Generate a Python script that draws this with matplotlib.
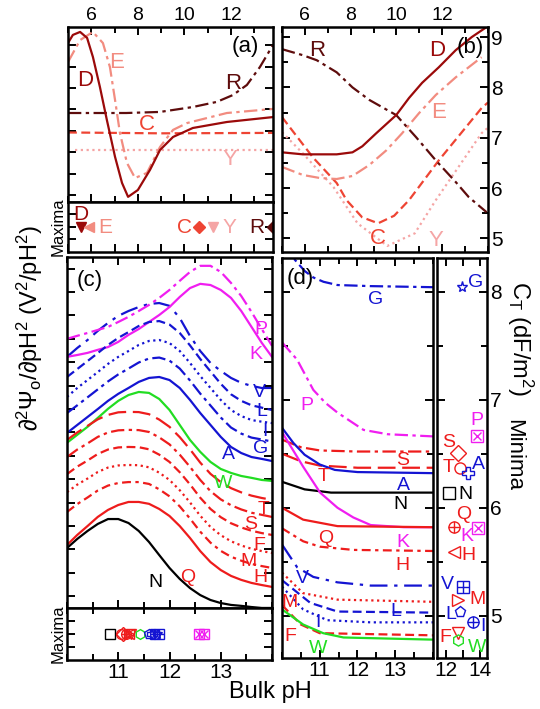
import matplotlib.pyplot as plt
from matplotlib.ticker import MultipleLocator

plt.rcParams['font.family'] = ['Liberation Sans', 'DejaVu Sans']
plt.rcParams['mathtext.fontset'] = 'custom'
plt.rcParams['mathtext.rm'] = 'Liberation Sans'
plt.rcParams['mathtext.it'] = 'Liberation Sans:italic'
plt.rcParams['mathtext.default'] = 'regular'

# ---------------- panel (a): second derivative, single oxides (arb. units)
a_ph_D = [5.0, 5.21, 5.52, 5.82, 6.07, 6.37, 6.67, 7.02, 7.32, 7.58, 8.0, 8.52, 8.95, 9.51, 10.36, 11.82, 13.8]
a_D = [7.10, 7.48, 7.62, 7.34, 6.45, 5.05, 3.50, 1.78, 0.56, -0.09, 0.23, 1.17, 2.10, 2.71, 3.13, 3.41, 3.64]
a_ph_E = [5.0, 5.52, 6.07, 6.5, 6.8, 7.02, 7.23, 7.53, 7.88, 8.39, 8.95, 9.51, 10.11, 11.82, 13.8]
a_E = [6.21, 7.24, 7.62, 7.10, 5.98, 4.44, 2.90, 1.50, 0.79, 1.03, 2.24, 3.04, 3.36, 3.83, 4.02]
a_ph_R = [5.0, 7.5, 8.95, 10.36, 11.39, 12.08, 12.68, 13.24, 13.8]
a_R = [3.83, 3.83, 3.88, 4.11, 4.35, 4.67, 5.14, 5.98, 7.01]
a_ph_C = [5.0, 9.0, 13.8]
a_C = [2.92, 2.88, 2.90]
a_ph_Y = [5.3, 13.8]
a_Y = [2.10, 2.10]
# pH of the maxima
amax_ph = {'D': 5.56, 'E': 5.9, 'C': 10.62, 'Y': 11.22, 'R': 13.8}

# ---------------- panel (b): C_T vs pH, single oxides
b_ph_D = [5.0, 5.91, 7.39, 8.08, 8.51, 9.12, 9.99, 10.55, 11.12, 11.85, 12.59, 13.29, 13.94]
b_D = [6.71, 6.67, 6.67, 6.71, 6.83, 7.09, 7.45, 7.79, 8.09, 8.40, 8.74, 9.0, 9.2]
b_ph_E = [5.0, 5.91, 6.65, 7.39, 8.08, 8.82, 9.56, 10.25, 10.99, 11.72, 12.59, 13.72]
b_E = [6.42, 6.26, 6.20, 6.18, 6.24, 6.46, 6.75, 7.09, 7.49, 7.85, 8.20, 8.60]
b_ph_R = [5.0, 5.91, 6.52, 7.39, 8.08, 8.82, 9.99, 10.86, 11.72, 12.59, 13.16, 13.94]
b_R = [8.76, 8.64, 8.54, 8.30, 8.0, 7.75, 7.45, 7.01, 6.55, 6.12, 5.82, 5.52]
b_ph_C = [5.0, 6.35, 7.39, 7.82, 8.5, 9.2, 9.9, 10.55, 11.85, 13.72, 14.0]
b_C = [7.41, 6.61, 6.10, 5.76, 5.42, 5.30, 5.45, 5.76, 6.55, 7.59, 7.7]
b_ph_Y = [5.0, 5.91, 7.25, 8.3, 9.6, 10.8, 11.72, 13.72, 14.0]
b_Y = [7.11, 6.69, 6.02, 5.30, 4.85, 5.10, 5.76, 7.09, 7.2]

# ---------------- panel (c): second derivative, mixtures (arb. units)
c_ph = [10.0, 10.2, 10.4, 10.6, 10.8, 11.0, 11.2, 11.4, 11.6, 11.8, 12.0,
        12.2, 12.4, 12.6, 12.8, 13.0, 13.2, 13.4, 13.6, 13.8, 14.0]
c_P = [11.00, 11.13, 11.25, 11.38, 11.51, 11.72, 11.94, 12.19, 12.45, 12.75, 13.09,
       13.48, 13.86, 14.12, 14.12, 13.86, 13.39, 12.83, 12.15, 11.42, 10.70]
c_K = [10.23, 10.31, 10.40, 10.53, 10.65, 10.87, 11.17, 11.42, 11.72, 12.02, 12.36,
       12.79, 13.17, 13.35, 13.30, 13.09, 12.75, 12.19, 11.51, 10.83, 10.23]
c_V = [10.23, 10.61, 10.95, 11.34, 11.68, 11.98, 12.19, 12.36, 12.49, 12.53, 12.41,
       11.89, 11.12, 10.48, 9.97, 9.63, 9.33, 9.12, 8.99, 8.90, 8.90]
c_L = [9.37, 9.71, 10.05, 10.39, 10.74, 11.04, 11.29, 11.55, 11.72, 11.76, 11.61,
       11.25, 10.72, 10.14, 9.61, 9.08, 8.63, 8.35, 8.16, 8.06, 7.96]
c_I = [8.52, 8.90, 9.24, 9.58, 9.93, 10.23, 10.48, 10.74, 10.91, 10.95, 10.82,
       10.48, 9.97, 9.41, 8.90, 8.39, 7.96, 7.70, 7.53, 7.46, 7.40]
c_G = [7.83, 8.16, 8.50, 8.84, 9.18, 9.48, 9.73, 9.99, 10.16, 10.20, 10.07,
       9.73, 9.22, 8.66, 8.15, 7.64, 7.21, 6.95, 6.78, 6.70, 6.61]
c_A = [6.98, 7.32, 7.66, 8.00, 8.35, 8.65, 8.90, 9.16, 9.33, 9.37, 9.24,
       8.90, 8.39, 7.83, 7.32, 6.81, 6.38, 6.12, 5.95, 5.87, 5.78]
c_W = [6.56, 6.90, 7.24, 7.62, 8.01, 8.35, 8.60, 8.73, 8.69, 8.43, 7.96,
       7.32, 6.68, 6.17, 5.74, 5.44, 5.27, 5.14, 5.06, 4.97, 4.93]
c_T = [6.68, 7.00, 7.28, 7.56, 7.75, 7.86, 7.88, 7.87, 7.78, 7.55, 7.24,
       6.80, 6.28, 5.71, 5.23, 4.88, 4.62, 4.44, 4.30, 4.20, 4.12]
c_S = [5.95, 6.27, 6.53, 6.81, 7.00, 7.09, 7.11, 7.10, 7.02, 6.79, 6.49,
       6.05, 5.53, 4.97, 4.49, 4.14, 3.89, 3.71, 3.57, 3.48, 3.39]
c_F = [5.22, 5.54, 5.80, 6.08, 6.27, 6.36, 6.38, 6.37, 6.28, 6.05, 5.74,
       5.30, 4.78, 4.21, 3.73, 3.38, 3.12, 2.94, 2.80, 2.70, 2.62]
c_M = [4.45, 4.77, 5.03, 5.31, 5.50, 5.59, 5.61, 5.60, 5.51, 5.28, 4.97,
       4.53, 4.01, 3.44, 2.96, 2.61, 2.35, 2.17, 2.03, 1.93, 1.85]
c_H = [3.60, 3.94, 4.22, 4.52, 4.73, 4.84, 4.88, 4.88, 4.80, 4.57, 4.27,
       3.84, 3.32, 2.76, 2.29, 1.94, 1.69, 1.52, 1.38, 1.29, 1.21]
c_Q = [2.19, 2.62, 3.00, 3.39, 3.69, 3.90, 4.03, 4.03, 3.95, 3.73, 3.43,
       3.00, 2.49, 1.93, 1.46, 1.12, 0.87, 0.70, 0.57, 0.48, 0.40]
c_N = [2.06, 2.45, 2.79, 3.09, 3.30, 3.30, 3.13, 2.79, 2.32, 1.76, 1.21,
       0.74, 0.35, 0.05, -0.16, -0.29, -0.37, -0.41, -0.46, -0.50, -0.50]
cmax_ph = {'N': 10.84, 'T': 11.05, 'S': 11.1, 'Q': 11.15, 'H': 11.2, 'M': 11.2,
           'F': 11.25, 'W': 11.43, 'L': 11.6, 'A': 11.65, 'I': 11.72,
           'G': 11.75, 'V': 11.8, 'K': 12.57, 'P': 12.67}

# ---------------- panel (d): C_T vs pH, mixtures
d_ph_G = [10.0, 10.2, 10.4, 10.6, 10.83, 11.1, 11.47, 12.35, 14.0]
d_G = [8.42, 8.35, 8.27, 8.19, 8.13, 8.09, 8.06, 8.05, 8.04]
d_ph_P = [10.0, 10.4, 10.83, 11.15, 11.47, 12.16, 12.8, 14.0]
d_P = [7.53, 7.37, 7.09, 6.97, 6.88, 6.72, 6.68, 6.66]
d_ph_S = [10.0, 10.5, 11.0, 12.0, 14.0]
d_S = [6.63, 6.56, 6.53, 6.52, 6.52]
d_ph_T = [10.0, 10.5, 11.0, 12.0, 14.0]
d_T = [6.50, 6.43, 6.39, 6.37, 6.37]
d_ph_A = [10.0, 10.3, 10.6, 11.0, 11.4, 12.0, 14.0]
d_A = [6.74, 6.60, 6.49, 6.40, 6.35, 6.33, 6.32]
d_ph_N = [10.0, 10.6, 11.3, 14.0]
d_N = [6.24, 6.17, 6.14, 6.14]
d_ph_K = [10.0, 10.56, 11.01, 11.47, 11.89, 12.35, 13.23, 14.0]
d_K = [6.70, 6.38, 6.14, 6.00, 5.91, 5.84, 5.82, 5.82]
d_ph_Q = [10.0, 10.56, 11.47, 14.0]
d_Q = [6.00, 5.89, 5.83, 5.82]
d_ph_H = [10.0, 10.56, 11.0, 11.89, 14.0]
d_H = [5.81, 5.69, 5.64, 5.61, 5.60]
d_ph_V = [10.0, 10.4, 10.83, 11.47, 12.35, 14.0]
d_V = [5.66, 5.45, 5.36, 5.31, 5.28, 5.28]
d_ph_M = [10.0, 10.56, 11.47, 14.0]
d_M = [5.40, 5.21, 5.15, 5.13]
d_ph_L = [10.0, 10.75, 11.47, 14.0]
d_L = [5.33, 5.12, 5.04, 5.03]
d_ph_I = [10.0, 10.56, 11.2, 12.35, 14.0]
d_I = [5.27, 5.06, 4.96, 4.94, 4.94]
d_ph_F = [10.0, 10.5, 11.0, 14.0]
d_F = [5.10, 4.92, 4.84, 4.82]
d_ph_W = [10.0, 10.56, 11.09, 11.63, 14.0]
d_W = [5.06, 4.92, 4.84, 4.80, 4.78]

# ---------------- panel (e): minima (pH, C_T)
emin_ph = {'G': 12.97, 'P': 13.83, 'S': 12.74, 'T': 12.86, 'A': 13.31, 'N': 12.17,
           'Q': 12.46, 'K': 13.89, 'H': 12.46, 'V': 13.03, 'M': 12.69, 'L': 12.86,
           'I': 13.6, 'F': 12.74, 'W': 12.74}
emin_ct = {'G': 8.04, 'P': 6.66, 'S': 6.51, 'T': 6.37, 'A': 6.32, 'N': 6.14,
           'Q': 5.82, 'K': 5.81, 'H': 5.59, 'V': 5.27, 'M': 5.15, 'L': 5.04,
           'I': 4.94, 'F': 4.84, 'W': 4.78}

# colours / styles
DRED, ECOL, RCOL, CCOL, YCOL = '#9B0A0A', '#F28C80', '#5E0C0C', '#EE4433', '#F5A5A5'
RED, BLUE, MAG, GREEN = '#EE1C1C', '#1414D2', '#F01EF0', '#22DD22'
dashdot = (0, (6, 2, 1.5, 2))
dashdot2 = (0, (4, 2, 1.5, 2))
longdd = (0, (8, 3, 1.5, 3))
longdash = (0, (8, 3))
dashed = (0, (4, 2))
dotted = (0, (1, 1.6))

mix = {'P': (MAG, dashdot), 'K': (MAG, '-'), 'V': (BLUE, longdd),
       'L': (BLUE, dashed), 'I': (BLUE, dotted), 'G': (BLUE, dashdot),
       'A': (BLUE, '-'), 'W': (GREEN, '-'), 'T': (RED, longdash),
       'S': (RED, dashdot), 'F': (RED, dashed), 'M': (RED, dotted),
       'H': (RED, dashdot2), 'Q': (RED, '-'), 'N': ('k', '-')}
marks = {'P': 'sx', 'K': 'sx', 'V': 'splus', 'L': 'p', 'I': 'oplus', 'G': '*',
         'A': 'P', 'W': 'h', 'T': 'o', 'S': 'D', 'F': 'v', 'M': '>',
         'H': '<', 'Q': 'oplus', 'N': 's'}

c_curves = {'V': c_V, 'P': c_P, 'K': c_K, 'L': c_L, 'I': c_I, 'G': c_G, 'A': c_A,
            'W': c_W, 'T': c_T, 'S': c_S, 'F': c_F, 'M': c_M, 'H': c_H, 'Q': c_Q,
            'N': c_N}
d_curves = {'G': (d_ph_G, d_G), 'P': (d_ph_P, d_P), 'S': (d_ph_S, d_S),
            'T': (d_ph_T, d_T), 'A': (d_ph_A, d_A), 'N': (d_ph_N, d_N),
            'K': (d_ph_K, d_K), 'Q': (d_ph_Q, d_Q), 'H': (d_ph_H, d_H),
            'V': (d_ph_V, d_V), 'M': (d_ph_M, d_M), 'L': (d_ph_L, d_L),
            'I': (d_ph_I, d_I), 'F': (d_ph_F, d_F), 'W': (d_ph_W, d_W)}

c_lab = {'P': (13.78, 11.38), 'K': (13.69, 10.31), 'V': (13.75, 8.69),
         'L': (13.8, 7.9), 'I': (13.86, 7.05), 'G': (13.78, 6.3),
         'A': (13.16, 6.04), 'W': (13.04, 4.84), 'T': (13.84, 3.69),
         'S': (13.59, 3.05), 'F': (13.75, 2.19), 'M': (13.55, 1.47),
         'H': (13.78, 0.82), 'Q': (12.35, 0.82), 'N': (11.73, 0.57)}
d_lab = {'G': (12.48, 7.93), 'P': (10.67, 6.95), 'S': (13.2, 6.44),
         'T': (11.09, 6.29), 'A': (13.23, 6.21), 'N': (13.15, 6.03),
         'Q': (11.15, 5.72), 'K': (13.2, 5.68), 'H': (13.2, 5.47),
         'V': (10.53, 5.35), 'M': (10.21, 5.12), 'L': (13.01, 5.04),
         'I': (10.96, 4.94), 'F': (10.21, 4.81), 'W': (10.96, 4.70)}
e_lab = {'G': (13.71, 8.08), 'P': (13.83, 6.81), 'S': (12.17, 6.6),
         'T': (12.17, 6.37), 'A': (13.89, 6.4), 'N': (13.14, 6.12),
         'Q': (13.03, 5.94), 'K': (13.26, 5.73), 'H': (13.31, 5.56),
         'V': (12.11, 5.29), 'M': (13.83, 5.15), 'L': (12.29, 5.01),
         'I': (14.17, 4.9), 'F': (12.0, 4.8), 'W': (13.83, 4.71)}


def frame(ax):
    ax.tick_params(which='both', direction='in', top=True, right=True,
                   width=1.4, labelsize=14, pad=2)
    ax.tick_params(which='major', length=6)
    ax.tick_params(which='minor', length=4)
    for s in ax.spines.values():
        s.set_linewidth(1.8)


def mark(ax, x, y, kind, col, ms):
    kw = dict(mfc='none', mec=col, mew=1.0, ms=ms, ls='none')
    if kind == 'oplus':
        ax.plot(x, y, 'o', **kw)
        ax.plot(x, y, '+', **kw)
    elif kind == 'splus':
        ax.plot(x, y, 's', **kw)
        ax.plot(x, y, '+', **kw)
    elif kind == 'sx':
        ax.plot(x, y, 's', **kw)
        kw['ms'] = ms * 0.8
        ax.plot(x, y, 'x', **kw)
    else:
        ax.plot(x, y, kind, **kw)


fig = plt.figure(figsize=(5.4, 7.09), dpi=100)
lw = 1.6

# ---- (a)
ax = fig.add_axes([0.1259, 0.7151, 0.3796, 0.2468])
ax.plot(a_ph_C, a_C, color=CCOL, ls=dashed, lw=lw)
ax.plot(a_ph_Y, a_Y, color=YCOL, ls=dotted, lw=lw)
ax.plot(a_ph_R, a_R, color=RCOL, ls=dashdot, lw=lw)
ax.plot(a_ph_E, a_E, color=ECOL, ls=dashdot, lw=lw)
ax.plot(a_ph_D, a_D, color=DRED, ls='-', lw=lw)
for t, x, y, c in [('D', 5.73, 5.37, DRED), ('E', 7.1, 6.17, ECOL), ('R', 12.08, 5.23, RCOL),
                   ('C', 8.39, 3.27, CCOL), ('Y', 11.95, 1.64, YCOL)]:
    ax.text(x, y, t, color=c, fontsize=16, ha='center', va='center')
ax.text(0.863, 0.886, '(a)', transform=ax.transAxes, fontsize=16, ha='center', va='center')
ax.set_xlim(5, 13.8)
ax.set_ylim(-0.33, 7.85)
ax.set_xticks([6, 8, 10, 12])
ax.xaxis.set_minor_locator(MultipleLocator(1))
ax.set_yticks(range(0, 8))
frame(ax)
ax.tick_params(labeltop=True, labelbottom=False, labelleft=False)

# ---- (a) maxima strip
ax = fig.add_axes([0.1259, 0.6446, 0.3796, 0.0705])
ax.plot(amax_ph['D'], 2, 'v', color=DRED, ms=7)
ax.plot(amax_ph['E'], 2, '<', color=ECOL, ms=7)
ax.plot(amax_ph['C'], 2, 'D', color=CCOL, ms=6)
ax.plot(amax_ph['Y'], 2, 'v', color=YCOL, ms=7)
ax.plot(amax_ph['R'], 2, 'D', color=RCOL, ms=6, clip_on=True)
for t, x, y, c in [('D', 5.56, 2.96, DRED), ('E', 6.59, 1.92, ECOL), ('C', 10.02, 1.92, CCOL),
                   ('Y', 11.95, 1.92, YCOL), ('R', 13.1, 1.92, RCOL)]:
    ax.text(x, y, t, color=c, fontsize=15, ha='center', va='center')
ax.set_xlim(5, 13.8)
ax.set_ylim(0, 4)
ax.xaxis.set_major_locator(MultipleLocator(1))
ax.set_yticks([1, 2, 3])
frame(ax)
ax.tick_params(top=False, labelbottom=False, labelleft=False)

# ---- (b)
ax = fig.add_axes([0.5222, 0.6446, 0.3815, 0.3173])
ax.plot(b_ph_Y, b_Y, color=YCOL, ls=dotted, lw=lw)
ax.plot(b_ph_C, b_C, color=CCOL, ls=dashed, lw=lw)
ax.plot(b_ph_E, b_E, color=ECOL, ls=dashdot, lw=lw)
ax.plot(b_ph_R, b_R, color=RCOL, ls=dashdot, lw=lw)
ax.plot(b_ph_D, b_D, color=DRED, ls='-', lw=lw)
for t, x, y, c in [('R', 6.52, 8.74, RCOL), ('D', 11.77, 8.74, DRED), ('E', 11.85, 7.51, ECOL),
                   ('C', 9.17, 5.0, CCOL), ('Y', 11.72, 4.96, YCOL)]:
    ax.text(x, y, t, color=c, fontsize=16, ha='center', va='center')
ax.text(0.913, 0.911, '(b)', transform=ax.transAxes, fontsize=16, ha='center', va='center')
ax.set_xlim(5, 14)
ax.set_ylim(4.73, 9.2)
ax.set_xticks([6, 8, 10, 12])
ax.xaxis.set_minor_locator(MultipleLocator(1))
ax.set_yticks([5, 6, 7, 8, 9])
ax.yaxis.set_minor_locator(MultipleLocator(0.5))
frame(ax)
ax.tick_params(labeltop=True, labelbottom=False, labelleft=False, labelright=True)
ax.tick_params(axis='y', labelsize=15)

# ---- (c)
ax = fig.add_axes([0.1241, 0.1425, 0.3796, 0.4951])
for k, vals in c_curves.items():
    col, ls = mix[k]
    ax.plot(c_ph, vals, color=col, ls=ls, lw=lw)
for k, (x, y) in c_lab.items():
    ax.text(x, y, k, color=mix[k][0], fontsize=14, ha='center', va='center')
ax.text(0.112, 0.934, '(c)', transform=ax.transAxes, fontsize=16, ha='center', va='center')
ax.set_xlim(10, 14)
ax.set_ylim(-0.5, 14.5)
ax.set_xticks([11, 12, 13])
ax.xaxis.set_minor_locator(MultipleLocator(0.5))
ax.set_yticks(range(0, 15))
frame(ax)
ax.tick_params(labelbottom=False, labelleft=False)

# ---- (c) maxima strip
ax = fig.add_axes([0.1241, 0.0691, 0.3796, 0.0733])
for k, x in cmax_ph.items():
    mark(ax, x, 2, marks[k], mix[k][0], 7)
ax.set_xlim(10, 14)
ax.set_ylim(0, 4)
ax.set_xticks([11, 12, 13])
ax.xaxis.set_minor_locator(MultipleLocator(0.5))
ax.set_yticks([1, 2, 3])
frame(ax)
ax.tick_params(top=False, labelleft=False, labelsize=15)

# ---- (d)
ax = fig.add_axes([0.5222, 0.0719, 0.2796, 0.5642])
for k, (xs, ys) in d_curves.items():
    col, ls = mix[k]
    ax.plot(xs, ys, color=col, ls=ls, lw=lw)
for k, (x, y) in d_lab.items():
    ax.text(x, y, k, color=mix[k][0], fontsize=14, ha='center', va='center')
ax.text(0.12, 0.95, '(d)', transform=ax.transAxes, fontsize=16, ha='center', va='center')
ax.set_xlim(10, 14)
ax.set_ylim(4.61, 8.31)
ax.set_xticks([11, 12, 13])
ax.xaxis.set_minor_locator(MultipleLocator(0.5))
ax.set_yticks([5, 6, 7, 8])
ax.yaxis.set_minor_locator(MultipleLocator(0.5))
frame(ax)
ax.tick_params(labelleft=False, labelsize=15)

# ---- (e) minima strip
ax = fig.add_axes([0.8093, 0.0719, 0.0926, 0.5642])
for k in emin_ph:
    mark(ax, emin_ph[k], emin_ct[k], marks[k], mix[k][0], 8)
for k, (x, y) in e_lab.items():
    ax.text(x, y, k, color=mix[k][0], fontsize=14, ha='center', va='center')
ax.set_xlim(11.5, 14.4)
ax.set_ylim(4.61, 8.31)
ax.set_xticks([12, 13, 14])
ax.set_xticklabels(['12', '', '14'])
ax.set_yticks([5, 6, 7, 8])
ax.yaxis.set_minor_locator(MultipleLocator(0.5))
frame(ax)
ax.tick_params(labelleft=False, labelright=True, labelsize=15)

# ---- shared labels
fig.text(0.056, 0.537, r'$\partial^2\Psi_o/\partial pH^2$ (V$^2$/pH$^2$)', rotation=90,
         fontsize=17, ha='center', va='center')
fig.text(0.107, 0.68, 'Maxima', rotation=90, fontsize=12, ha='center', va='center')
fig.text(0.107, 0.106, 'Maxima', rotation=90, fontsize=12, ha='center', va='center')
fig.text(0.963, 0.523, r'C$_T$ (dF/m$^2$)', rotation=270, fontsize=17, ha='center', va='center')
fig.text(0.952, 0.358, 'Minima', rotation=270, fontsize=16, ha='center', va='center')
fig.text(0.5, 0.024, 'Bulk pH', fontsize=17, ha='center', va='center')

fig.savefig('out.png', dpi=100)
